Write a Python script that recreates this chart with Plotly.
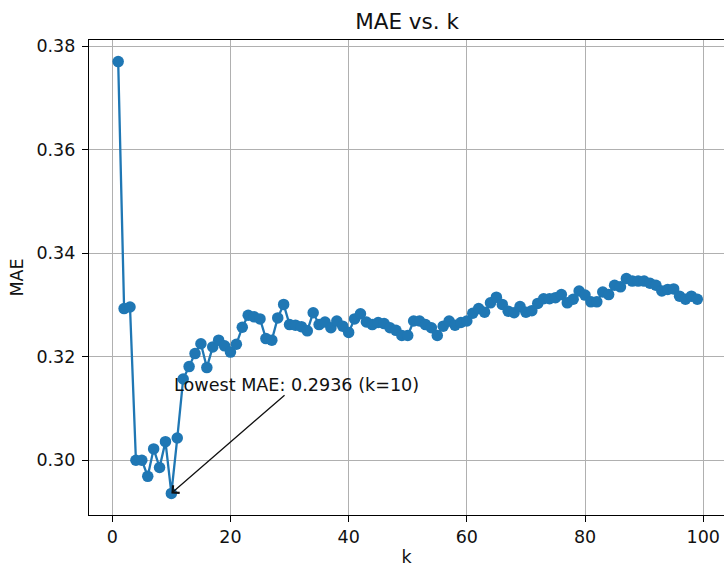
import plotly.graph_objects as go

k_values = list(range(1, 100))
mae_values = [
    0.3770, 0.3293, 0.3296, 0.3000, 0.3000, 0.2969, 0.3022, 0.2986, 0.3036, 0.2936,
    0.3043, 0.3157, 0.3181, 0.3206, 0.3225, 0.3179, 0.3219, 0.3232, 0.3221, 0.3209,
    0.3224, 0.3257, 0.3280, 0.3277, 0.3273, 0.3235, 0.3232, 0.3275, 0.3301, 0.3262,
    0.3261, 0.3258, 0.3250, 0.3285, 0.3262, 0.3267, 0.3256, 0.3269, 0.3259, 0.3247,
    0.3273, 0.3283, 0.3267, 0.3262, 0.3266, 0.3264, 0.3256, 0.3251, 0.3241, 0.3241,
    0.3269, 0.3269, 0.3262, 0.3256, 0.3241, 0.3259, 0.3269, 0.3261, 0.3266, 0.3269,
    0.3284, 0.3293, 0.3286, 0.3304, 0.3315, 0.3301, 0.3288, 0.3285, 0.3297, 0.3286,
    0.3289, 0.3303, 0.3312, 0.3312, 0.3314, 0.3320, 0.3304, 0.3311, 0.3327, 0.3319,
    0.3306, 0.3306, 0.3325, 0.3320, 0.3338, 0.3335, 0.3351, 0.3346, 0.3346, 0.3346,
    0.3342, 0.3338, 0.3327, 0.3330, 0.3331, 0.3317, 0.3311, 0.3317, 0.3311,
]
x_ticks = [0, 20, 40, 60, 80, 100]
y_ticks = [0.30, 0.32, 0.34, 0.36, 0.38]

best_i = min(range(len(mae_values)), key=lambda i: mae_values[i])
best_k = k_values[best_i]
best_mae = mae_values[best_i]

FONT = "DejaVu Sans"
TXT = "#111111"

fig = go.Figure()
fig.add_trace(go.Scatter(
    x=k_values, y=mae_values, mode="lines+markers",
    line=dict(color="#1f77b4", width=2.3),
    marker=dict(color="#1f77b4", size=11.5),
    showlegend=False, hoverinfo="x+y",
))

fig.add_annotation(
    x=best_k, y=best_mae, xref="x", yref="y",
    ax=best_k + 21.2, ay=best_mae + 0.0210, axref="x", ayref="y",
    text=f"Lowest MAE: {best_mae:.4f} (k={best_k})",
    showarrow=True, arrowhead=4, arrowsize=1.5, arrowwidth=1.3, arrowcolor="#111111",
    font=dict(family=FONT, size=17.6, color=TXT),
    standoff=0, startstandoff=0, borderpad=0,
)

grid = dict(showgrid=True, gridcolor="#b0b0b0", gridwidth=1.3, zeroline=False,
            ticks="outside", ticklen=6, tickcolor="black", tickwidth=1.3,
            tickfont=dict(family=FONT, size=17.5, color=TXT), automargin=False)

fig.update_xaxes(range=[-3.94, 103.52], tickvals=x_ticks,
                 showline=True, linecolor="black", linewidth=1.3, mirror=True,
                 title=dict(text="k", font=dict(family=FONT, size=17.5, color=TXT), standoff=5),
                 **grid)
fig.update_yaxes(range=[0.28943, 0.38117], tickvals=y_ticks, tickformat=".2f",
                 showline=True, linecolor="black", linewidth=1.3, mirror=False,
                 ticklabelstandoff=3,
                 title=dict(text="MAE", font=dict(family=FONT, size=17.5, color=TXT), standoff=8),
                 **grid)

fig.update_layout(
    width=724, height=567,
    margin=dict(l=89, r=0, t=40, b=52, pad=0),
    plot_bgcolor="white", paper_bgcolor="white",
    title=dict(text="MAE vs. k", x=407 / 724, xanchor="center", xref="container",
               y=1 - 21 / 567, yanchor="middle", yref="container",
               font=dict(family=FONT, size=21.5, color=TXT)),
)

fig.write_html(
    "out.html",
    config={"displayModeBar": False},
    post_script="document.body.style.margin='0';document.body.style.overflow='hidden';",
)
